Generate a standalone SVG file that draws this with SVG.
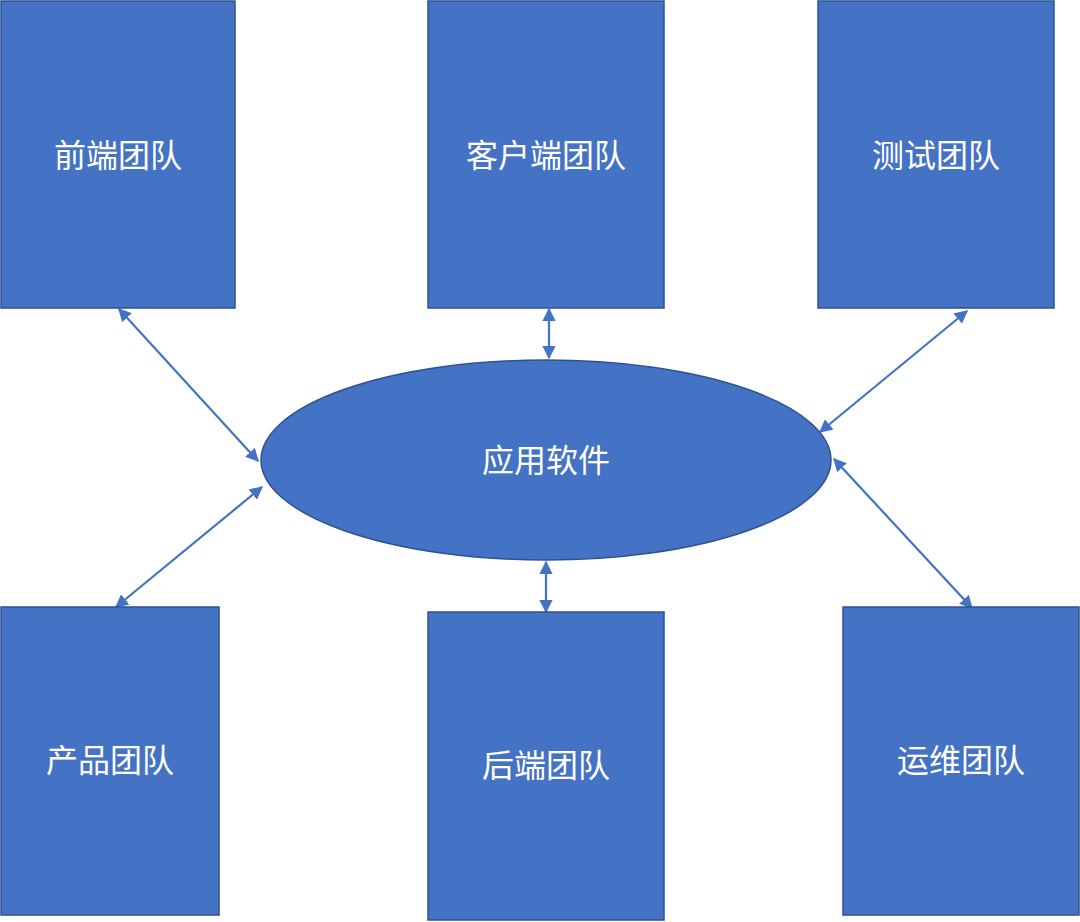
<svg xmlns="http://www.w3.org/2000/svg" width="1080" height="922" viewBox="0 0 1080 922">
<style>
.box{fill:#4472C4;stroke:#2F528F;stroke-width:1.5}
.lbl{fill:#fff;font-family:"Noto Sans CJK SC","Liberation Sans",sans-serif;font-size:32px;text-anchor:middle;dominant-baseline:central}
.con{stroke:#4472C4;stroke-width:2.2;fill:none;marker-start:url(#ah);marker-end:url(#ah)}
</style>
<defs>
<marker id="ah" viewBox="0 0 10 10" refX="9" refY="5" markerWidth="6" markerHeight="6" orient="auto-start-reverse" markerUnits="strokeWidth">
<path d="M0,0 L10,5 L0,10 z" fill="#4472C4"/>
</marker>
</defs>
<rect width="1080" height="922" fill="#fff"/>
<g id="connectors">
<line class="con" x1="119" y1="309" x2="258" y2="461"/>
<line class="con" x1="549" y1="309" x2="549" y2="358"/>
<line class="con" x1="967" y1="311" x2="820" y2="432"/>
<line class="con" x1="262" y1="487" x2="116" y2="607"/>
<line class="con" x1="546" y1="562" x2="546" y2="612"/>
<line class="con" x1="834" y1="459" x2="972" y2="608"/>
</g>
<g id="frontend"><rect class="box" x="1" y="1" width="234" height="307"/><text class="lbl" x="118" y="153">前端团队</text></g>
<g id="client"><rect class="box" x="428" y="1" width="236" height="307"/><text class="lbl" x="546" y="153">客户端团队</text></g>
<g id="test"><rect class="box" x="818" y="1" width="236" height="307"/><text class="lbl" x="936" y="153">测试团队</text></g>
<g id="app"><ellipse class="box" cx="546" cy="460" rx="285" ry="100"/><text class="lbl" x="546" y="458">应用软件</text></g>
<g id="product"><rect class="box" x="1" y="607" width="218" height="308"/><text class="lbl" x="110" y="758">产品团队</text></g>
<g id="backend"><rect class="box" x="428" y="612" width="236" height="308"/><text class="lbl" x="546" y="763">后端团队</text></g>
<g id="ops"><rect class="box" x="843" y="607" width="236" height="308"/><text class="lbl" x="961" y="758">运维团队</text></g>
</svg>
